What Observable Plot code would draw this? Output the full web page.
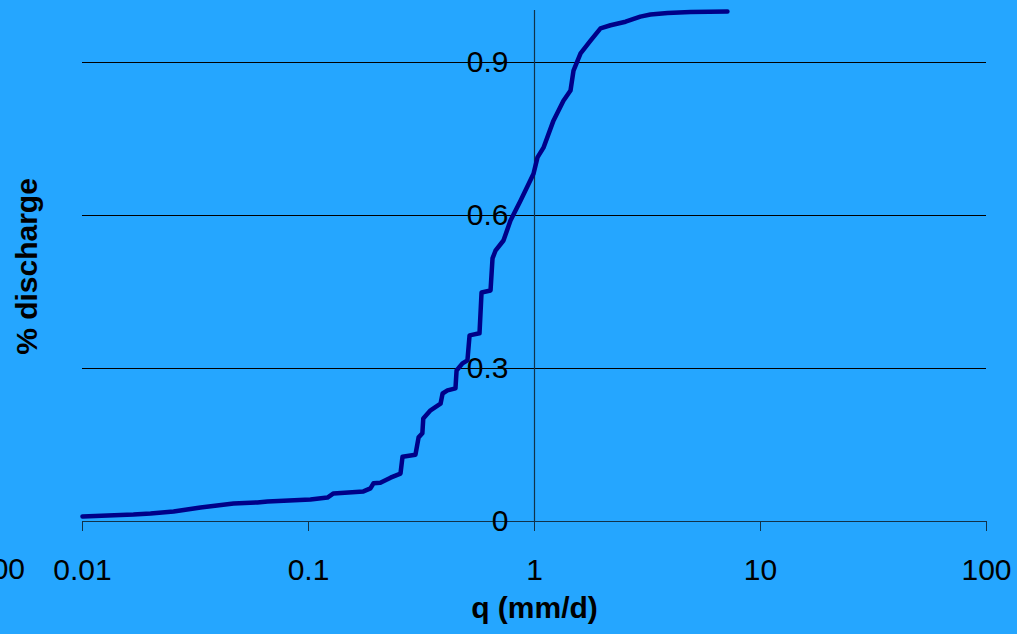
<!DOCTYPE html>
<html>
<head>
<meta charset="utf-8">
<script src="https://cdn.jsdelivr.net/npm/d3@7"></script>
<script src="https://cdn.jsdelivr.net/npm/@observablehq/plot@0.6"></script>
<style>
  html, body { margin: 0; padding: 0; background: #25A6FF; }
  #wrap { position: relative; width: 1017px; height: 634px; overflow: hidden; background: #25A6FF; }
  #edge { position: absolute; left: -25px; top: 554px; width: 48px; text-align: center;
          font: 30px "Liberation Sans", Arial, sans-serif; line-height: 1; color: #000; }
</style>
</head>
<body>
<div id="wrap"><div id="edge">100</div></div>
<script>
// Discharge (q, mm/d) vs cumulative share of discharge
const q = [0.01, 0.0168, 0.02, 0.0253, 0.0333, 0.0466, 0.0594, 0.0659, 0.102, 0.1213,
  0.129, 0.175, 0.188, 0.194, 0.208, 0.2307, 0.2553, 0.2606, 0.2974, 0.307,
  0.319, 0.322, 0.3467, 0.384, 0.392, 0.412, 0.447, 0.452, 0.480, 0.505,
  0.516, 0.571, 0.583, 0.639, 0.652, 0.672, 0.729, 0.783, 0.867, 0.99,
  1.031, 1.096, 1.213, 1.343, 1.443, 1.488, 1.599, 1.770, 1.959, 2.17,
  2.53, 2.94, 3.26, 3.88, 4.90, 7.14];
const share = [0.010, 0.0137, 0.0157, 0.0196, 0.0275, 0.0353, 0.0373, 0.0392, 0.0431, 0.047,
  0.055, 0.059, 0.065, 0.075, 0.076, 0.086, 0.094, 0.127, 0.131, 0.165,
  0.173, 0.202, 0.218, 0.231, 0.251, 0.257, 0.261, 0.296, 0.310, 0.316,
  0.365, 0.369, 0.449, 0.453, 0.516, 0.531, 0.551, 0.590, 0.629, 0.682,
  0.714, 0.733, 0.786, 0.825, 0.845, 0.884, 0.918, 0.943, 0.967, 0.973,
  0.980, 0.990, 0.994, 0.997, 0.999, 1.0];
const xTicks = [0.01, 0.1, 1, 10, 100];
const yTicks = [0, 0.3, 0.6, 0.9];
const xLabel = "q (mm/d)";
const yLabel = "% discharge";

const data = q.map((v, i) => ({q: v, s: share[i]}));
const font = '"Liberation Sans", Arial, sans-serif';

const chart = Plot.plot({
  width: 1017,
  height: 634,
  marginLeft: 82,
  marginRight: 31,
  marginTop: 11,
  marginBottom: 113,
  style: {background: "transparent", fontFamily: font, color: "#000", overflow: "visible"},
  x: {type: "log", domain: [0.01, 100]},
  y: {domain: [0, 1], axis: null},
  marks: [
    Plot.ruleY(yTicks.filter(d => d > 0), {x1: 0.01, x2: 100, stroke: "#000", strokeWidth: 1}),
    Plot.axisX({ticks: xTicks, tickFormat: d => String(d), tickSize: 10, tickPadding: 27,
      fontSize: 30, stroke: "#10324a", label: null}),
    Plot.ruleY([0], {x1: 0.01, x2: 100, stroke: "#10324a", strokeWidth: 1.2}),
    Plot.ruleX([1], {y1: 0, y2: 1.002, stroke: "#10324a", strokeWidth: 1.2}),
    Plot.text(yTicks, {x: 1, y: d => d, text: d => String(d), textAnchor: "end", dx: -26,
      fontSize: 30, fill: "#000"}),
    Plot.line(data, {x: "q", y: "s", stroke: "#000088", strokeWidth: 4.5, strokeLinejoin: "round"}),
    Plot.text([xLabel], {frameAnchor: "bottom", dy: 96, fontSize: 30, fontWeight: "bold", fill: "#000"}),
    Plot.text([yLabel], {frameAnchor: "left", dx: -55, rotate: -90, textAnchor: "middle",
      fontSize: 30, fontWeight: "bold", fill: "#000"})
  ]
});
document.getElementById("wrap").prepend(chart);
</script>
</body>
</html>
